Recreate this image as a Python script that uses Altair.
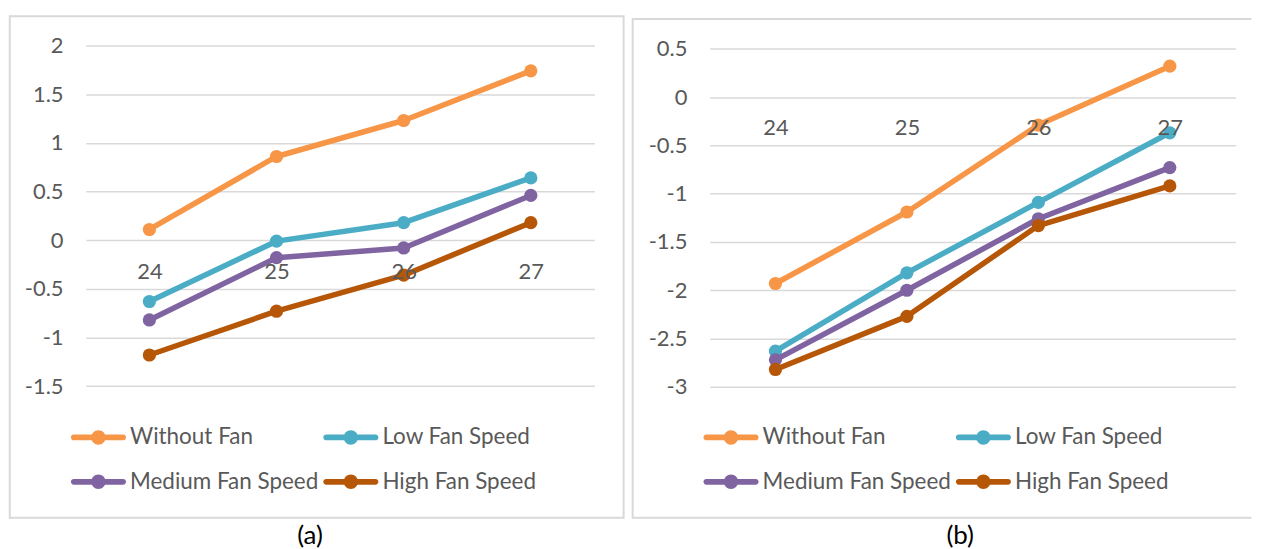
import altair as alt
import pandas as pd

# ---------------- data ----------------
temps = ["24", "25", "26", "27"]
series = ["Without Fan", "Low Fan Speed", "Medium Fan Speed", "High Fan Speed"]
colors = ["#F79646", "#4BACC6", "#8064A2", "#B65708"]

a_without = [0.11, 0.86, 1.23, 1.74]
a_low = [-0.63, -0.01, 0.18, 0.64]
a_medium = [-0.82, -0.18, -0.08, 0.46]
a_high = [-1.18, -0.73, -0.36, 0.18]

b_without = [-1.93, -1.19, -0.29, 0.32]
b_low = [-2.63, -1.82, -1.09, -0.37]
b_medium = [-2.72, -2.00, -1.26, -0.73]
b_high = [-2.82, -2.27, -1.33, -0.92]

a_ticks = [-1.5, -1, -0.5, 0, 0.5, 1, 1.5, 2]
b_ticks = [-3, -2.5, -2, -1.5, -1, -0.5, 0, 0.5]
captions = ["(a)", "(b)"]

FONT = "Lato"
TXT = "#595959"
GRID = "#D9D9D9"

# legend symbol: rounded line with a dot in the middle
SYMBOL = ("M-0.6,-0.42 L6.6,-0.42 A0.42,0.42 0 0 1 6.6,0.42 L-0.6,0.42 "
          "A0.42,0.42 0 0 1 -0.6,-0.42 Z "
          "M1.95,0 A1.05,1.05 0 1 1 4.05,0 A1.05,1.05 0 1 1 1.95,0 Z")


def make_df(vals):
    rows = []
    for s, v in zip(series, vals):
        for t, y in zip(temps, v):
            rows.append({"temp": t, "value": y, "series": s})
    return pd.DataFrame(rows)


def panel(vals, ticks, domain, width, height, zero_from_bottom, border,
          right_side, legend_x, caption, cap_x):
    df = make_df(vals)
    x = alt.X("temp:O", sort=temps,
              scale=alt.Scale(type="point", padding=0.5),
              axis=alt.Axis(orient="bottom", offset=-zero_from_bottom,
                            domain=False, ticks=False, tickSize=0, grid=False,
                            labelPadding=31, labelBaseline="middle",
                            labelAngle=0, labelFontSize=22, labelFont=FONT,
                            labelColor=TXT, title=None, zindex=1))
    y = alt.Y("value:Q", scale=alt.Scale(domain=domain, nice=False, zero=False),
              axis=alt.Axis(values=ticks, grid=True, gridColor=GRID,
                            gridWidth=1.5, domain=False, ticks=False,
                            tickSize=0, labelPadding=22.8, labelFontSize=22,
                            labelFont=FONT, labelColor=TXT, title=None,
                            labelExpr="'' + datum.value"))
    color = alt.Color("series:N", sort=series,
                      scale=alt.Scale(domain=series, range=colors),
                      legend=alt.Legend(title=None, orient="none",
                                        direction="horizontal",
                                        legendX=legend_x, legendY=381.5,
                                        columns=2, columnPadding=0,
                                        rowPadding=21.5, padding=0,
                                        symbolType=SYMBOL, symbolSize=189,
                                        symbolStrokeWidth=0, symbolOffset=0,
                                        labelOffset=41, labelFontSize=22.5,
                                        labelFont=FONT, labelColor=TXT,
                                        labelLimit=400))
    base = alt.Chart(df)
    one = alt.Chart(pd.DataFrame({"c": [caption]}))
    layers = []
    bx0, bx1, by0, by1 = border
    edge = dict(color=GRID, strokeWidth=2)
    layers.append(one.mark_rule(**edge).encode(
        x=alt.value(bx0), x2=alt.value(bx1), y=alt.value(by0)))
    layers.append(one.mark_rule(**edge).encode(
        x=alt.value(bx0), x2=alt.value(bx1), y=alt.value(by1)))
    layers.append(one.mark_rule(**edge).encode(
        x=alt.value(bx0), y=alt.value(by0 - 1), y2=alt.value(by1 + 1)))
    if right_side:
        layers.append(one.mark_rule(**edge).encode(
            x=alt.value(bx1), y=alt.value(by0 - 1), y2=alt.value(by1 + 1)))
    for s in series:
        sub = base.transform_filter(alt.datum.series == s)
        layers.append(sub.mark_line(strokeWidth=5.5, strokeCap="round",
                                    strokeJoin="round").encode(x=x, y=y, color=color))
        layers.append(sub.mark_circle(size=175, opacity=1).encode(x=x, y=y, color=color))
    cap = one.mark_text(
        fontSize=26, font=FONT, color="#000000", baseline="middle", align="center"
    ).encode(x=alt.value(cap_x), y=alt.value(491.6), text="c:N")
    layers.append(cap)
    return alt.layer(*layers).properties(width=width, height=height)


H = 342.5
pa = panel([a_without, a_low, a_medium, a_high], a_ticks, [-1.5113, 2.0],
           509.8, H, 147.3, (-76.2, 539.1, -29.4, 473.3), True, -19.2,
           captions[0], 224.8)
pb = panel([b_without, b_low, b_medium, b_high], b_ticks, [-3.004, 0.533],
           527.1, H, 291.0, (-77.2, 543.0, -26.7, 473.3), False, -10.5,
           captions[1], 251.1)

chart = alt.hconcat(pa, pb, spacing=5.4).resolve_legend(
    color="independent"
).properties(
    padding={"left": 0, "top": 5, "right": 0, "bottom": 0},
    background="white",
).configure_view(stroke=None)

chart.save("out.html", embed_options={"renderer": "svg", "actions": False})
